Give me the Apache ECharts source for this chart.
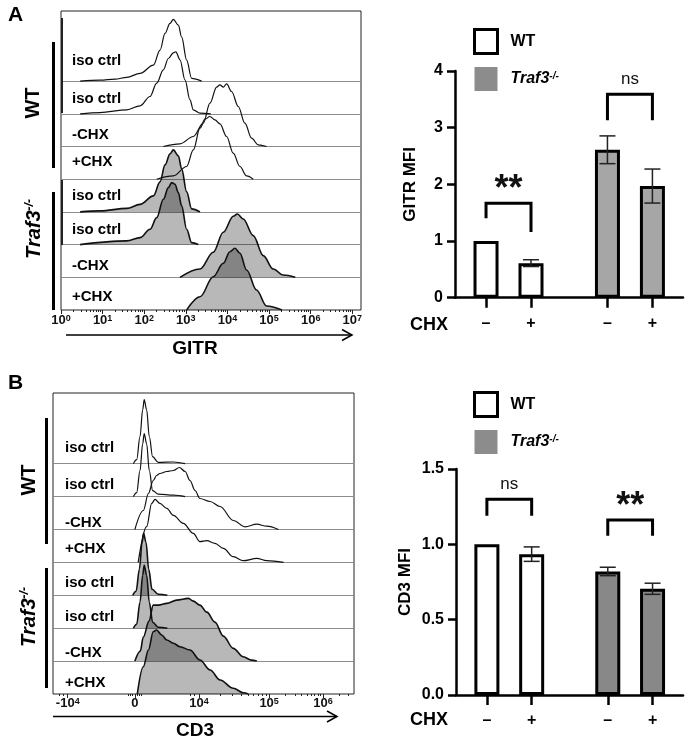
<!DOCTYPE html>
<html><head><meta charset="utf-8">
<script src="https://cdn.jsdelivr.net/npm/echarts@6/dist/echarts.min.js"></script>
<style>html,body{margin:0;padding:0;background:#fff}#c{width:688px;height:739px}</style>
</head><body><div id="c"></div>
<script>
const FONT = '"Liberation Sans", Arial, Helvetica, sans-serif';

// ---------- Panel A: GITR histograms (x = log10 intensity, y = relative count) ----------
const rowLabels = ['iso ctrl','iso ctrl','-CHX','+CHX','iso ctrl','iso ctrl','-CHX','+CHX'];
const rowFilled = [false,false,false,false,true,true,true,true];
const gitrWtIso1  = [[0.46,0],[0.94,1],[1.30,2],[1.58,3.7],[1.90,7.7],[2.22,16],[2.38,31],[2.50,47.7],[2.62,57.7],[2.70,61.7],[2.82,56],[2.90,44],[3.02,21],[3.14,2.7],[3.38,0]];
const gitrWtIso2  = [[0.46,0],[0.94,1.2],[1.58,4],[1.90,8],[2.14,17.3],[2.30,30.7],[2.46,44],[2.58,55.3],[2.70,61],[2.76,62],[2.86,54],[2.98,34],[3.10,14],[3.18,4],[3.34,0.7],[3.60,0]];
const gitrWtMinus = [[2.46,0],[2.86,2.7],[3.18,10],[3.42,23.3],[3.58,43.3],[3.74,59.3],[3.82,61.7],[3.90,59.3],[3.98,62.7],[4.10,55],[4.26,40],[4.42,23.3],[4.58,8.3],[4.74,1.7],[4.94,0]];
const gitrWtPlus  = [[2.30,0],[2.70,3.3],[3.02,12.7],[3.18,29.3],[3.34,51],[3.46,60],[3.58,62.7],[3.70,59.3],[3.82,55.3],[3.98,42.7],[4.14,26],[4.30,12.7],[4.46,3.3],[4.62,0]];
const gitrKoIso1  = [[0.46,0],[0.94,1],[1.58,3.5],[1.90,7.5],[2.22,16],[2.38,30],[2.50,47],[2.62,58],[2.70,62],[2.82,56],[2.90,43],[3.02,20],[3.14,3],[3.34,0]];
const gitrKoIso2  = [[0.46,0],[1.58,3.7],[1.90,7],[2.14,15.3],[2.30,27],[2.46,45.3],[2.58,57],[2.66,62],[2.74,60.3],[2.82,52],[2.90,38.7],[3.02,15.3],[3.14,2],[3.30,0]];
const gitrKoMinus = [[2.86,0],[3.34,8.3],[3.66,25],[3.90,45],[4.14,61],[4.24,63.3],[4.38,58.3],[4.62,41.7],[4.86,21.7],[5.10,8.3],[5.34,2.3],[5.63,0]];
const gitrKoPlus  = [[3.02,0],[3.34,13.3],[3.66,33.3],[3.90,46.7],[4.06,58.3],[4.18,61.7],[4.30,56.7],[4.46,40],[4.70,20],[4.94,4],[5.31,0]];
const gitrDecades = [0,1,2,3,4,5,6,7];

// ---------- Panel B: CD3 histograms (x = biexponential display channel) ----------
const cd3WtIso1  = [[267,0],[278,4],[289,27],[298,54],[303,64],[311,54],[320,27],[331,7],[350,1.3],[400,1.7],[439,0]];
const cd3WtIso2  = [[267,0],[278,4],[289,26],[298,53],[303,63],[311,53],[320,26],[331,6],[350,2.5],[400,1.5],[439,0]];
const cd3WtMinus = [[272,0],[300,19],[317,36],[333,49],[344,54],[355,56],[378,58],[400,59],[420,62],[439,58],[455,49],[472,39],[488,31],[522,28],[555,23],[599,9],[638,2.7],[677,5.3],[710,3.3],[749,0]];
const cd3WtPlus  = [[283,0],[311,35.7],[328,59],[339,63],[355,59],[378,54],[400,47],[433,39],[466,29],[488,20.7],[511,21.7],[538,19],[566,14],[599,5.7],[632,1.7],[677,4],[710,1.7],[766,0]];
const cd3KoIso1  = [[265,0],[276,4],[287,26],[296,53],[301,62],[309,53],[318,26],[329,6],[350,1],[380,0]];
const cd3KoIso2  = [[267,0],[278,4],[289,26],[298,53],[303,63],[311,53],[320,26],[331,6],[350,1],[380,0]];
const cd3KoMinus = [[272,0],[290,10],[300,24],[319,40],[333,56],[350,56],[378,57.7],[411,61],[450,62.7],[466,60],[488,56],[511,49],[538,39],[566,25],[599,12.7],[632,4.3],[660,1],[677,0]];
const cd3KoPlus  = [[280,0],[300,27.3],[317,44],[333,62.3],[344,64],[361,59],[378,54],[400,50.7],[422,47.3],[455,44],[488,34],[522,24],[555,14],[599,5.7],[632,1.3],[649,0]];
const cd3TickPos  = [49, 272, 485, 718, 897];
const cd3TickBase = ['-10','0','10','10','10'];
const cd3TickExp  = ['4','','4','5','6'];

// ---------- Bar charts ----------
const genotypes = ['WT','Traf3-/-'];
const chxSigns = ['–','+'];
const gitrWT = [1.0, 0.61],  gitrWTErr = [0, 0.06];
const gitrKO = [2.61, 1.97], gitrKOErr = [0.245, 0.30];
const cd3WT  = [1.0, 0.935], cd3WTErr  = [0, 0.048];
const cd3KO  = [0.82, 0.705], cd3KOErr = [0.028, 0.037];
const gitrSigText = ['**','ns'], gitrSigTop = [1.665, 3.59], gitrSigLegL = [1.40, 3.13], gitrSigLegR = [1.16, 3.13];
const cd3SigText  = ['ns','**'], cd3SigTop  = [1.30, 1.161], cd3SigLegL = [1.19, 1.057], cd3SigLegR = [1.19, 1.057];

// ---------- layout ----------
const GA = {left:61, top:11, width:300, height:299};
const GB = {left:53, top:393, width:301, height:301};
const rowHA = 32.7, rowHB = 32.9;
const liftA = [20,15,12,17,16,15,11,13];
const liftB = [16,12,7,14,12,11,8,11];
const GROUP_OFFSET = 2.7;
const slot = (g, i) => g * GROUP_OFFSET + i;
const slots = [slot(0,0), slot(0,1), slot(1,0), slot(1,1)];
const BX_MIN = -0.69, BX_MAX = 4.38;

const gitrCurves = [gitrWtIso1, gitrWtIso2, gitrWtMinus, gitrWtPlus, gitrKoIso1, gitrKoIso2, gitrKoMinus, gitrKoPlus];
const cd3Curves  = [cd3WtIso1, cd3WtIso2, cd3WtMinus, cd3WtPlus, cd3KoIso1, cd3KoIso2, cd3KoMinus, cd3KoPlus];

function histSeries(curves, rowH, xi, yi, prefix) {
  return curves.map((c, k) => {
    const base = (7 - k) * rowH;
    const s = {
      name: prefix + ' ' + k, type: 'line', xAxisIndex: xi, yAxisIndex: yi,
      data: c.map(p => [p[0], base + p[1]]),
      symbol: 'none', smooth: 0.35, smoothMonotone: 'x', silent: true,
      lineStyle: {color: '#111', width: rowFilled[k] ? 1.6 : 1.2},
      z: 3
    };
    if (rowFilled[k]) s.areaStyle = {color: 'rgba(0,0,0,0.4)', origin: base};
    if (base > 0) s.markLine = {silent: true, symbol: ['none','none'], label: {show: false},
      lineStyle: {color: '#8c8c8c', width: 1, type: 'solid'}, data: [{yAxis: base}], z: 2};
    return s;
  });
}

function nearestIdx(v) {
  let bi = 0; slots.forEach((s, i) => { if (Math.abs(s - v) < Math.abs(slots[bi] - v)) bi = i; });
  return bi;
}

function errSeries(wt, wtE, ko, koE, xi, yi) {
  const data = [];
  [[wt, wtE], [ko, koE]].forEach(([m, e], g) => m.forEach((v, i) => { if (e[i] > 0) data.push([slot(g, i), v, e[i]]); }));
  return {
    type: 'custom', xAxisIndex: xi, yAxisIndex: yi, silent: true, z: 5, data,
    renderItem(params, api) {
      const x = api.value(0), m = api.value(1), e = api.value(2);
      const t = api.coord([x, m + e]), b = api.coord([x, m - e]);
      const st = {stroke: '#222', lineWidth: 1.5};
      return {type: 'group', children: [
        {type: 'line', shape: {x1: t[0], y1: t[1], x2: b[0], y2: b[1]}, style: st},
        {type: 'line', shape: {x1: t[0] - 8, y1: t[1], x2: t[0] + 8, y2: t[1]}, style: st},
        {type: 'line', shape: {x1: b[0] - 8, y1: b[1], x2: b[0] + 8, y2: b[1]}, style: st}
      ]};
    }
  };
}

function sigSeries(texts, tops, legL, legR, xi, yi) {
  return {
    type: 'custom', xAxisIndex: xi, yAxisIndex: yi, silent: true, z: 6,
    data: texts.map((t, g) => [slot(g, 0), slot(g, 1), tops[g], legL[g], legR[g]]),
    renderItem(params, api) {
      const x1 = api.value(0), x2 = api.value(1), top = api.value(2);
      const a = api.coord([x1, api.value(3)]), b = api.coord([x1, top]);
      const c = api.coord([x2, top]), d = api.coord([x2, api.value(4)]);
      const txt = texts[params.dataIndex];
      const star = txt === '**';
      return {type: 'group', children: [
        {type: 'polyline', shape: {points: [a, b, c, d]}, style: {stroke: '#000', lineWidth: 3, fill: null}},
        {type: 'text', x: (b[0] + c[0]) / 2, y: b[1] + (star ? 5 : -15),
          style: {text: txt, align: 'center', verticalAlign: star ? 'bottom' : 'middle',
            font: star ? 'bold 36px ' + FONT : '17px ' + FONT, fill: '#111'}}
      ]};
    }
  };
}

function barSeries(wt, ko, xi, yi, koColor) {
  return [
    {name: 'WT', type: 'bar', xAxisIndex: xi, yAxisIndex: yi, barWidth: 25, barGap: '-100%', silent: true,
      data: wt.map((v, i) => [slot(0, i), v]),
      itemStyle: {color: '#fff', borderColor: '#000', borderWidth: 3}, z: 4},
    {name: 'Traf3-/-', type: 'bar', xAxisIndex: xi, yAxisIndex: yi, barWidth: 25, barGap: '-100%', silent: true,
      data: ko.map((v, i) => [slot(1, i), v]),
      itemStyle: {color: koColor, borderColor: '#000', borderWidth: 3}, z: 4}
  ];
}

const minorA = [];
gitrDecades.forEach(d => { for (let m = 2; m <= 9; m++) { const v = d + Math.log10(m); if (v < 7.21) minorA.push(v); } });
const minorB = [20, 34, 250, 258, 264, 280, 286, 294, 455, 470];
[[485, 718], [718, 897], [897, 1076]].forEach(([a, b]) => { for (let m = 2; m <= 9; m++) { const v = a + (b - a) * Math.log10(m); if (v < 1000) minorB.push(v); } });

const supRich = {
  b: {fontSize: 13, fontWeight: 'bold', fontFamily: FONT, color: '#111'},
  s: {fontSize: 9, fontWeight: 'bold', fontFamily: FONT, color: '#111', verticalAlign: 'top'}
};

function barXAxis(gi) {
  return {type: 'value', gridIndex: gi, min: BX_MIN, max: BX_MAX, position: 'bottom',
    axisLine: {show: true, onZero: false, lineStyle: {color: '#000', width: 2.5}},
    axisTick: {show: true, customValues: slots, length: 10, lineStyle: {color: '#000', width: 2.5}},
    axisLabel: {show: true, customValues: slots, margin: 18, color: '#000', fontSize: 16, fontWeight: 'bold', fontFamily: FONT,
      formatter: v => chxSigns[nearestIdx(v) % 2]},
    splitLine: {show: false}};
}
function barYAxis(gi, max, interval, name, gap, dec) {
  return {type: 'value', gridIndex: gi, min: 0, max, interval, position: 'left',
    name, nameLocation: 'middle', nameGap: gap, nameRotate: 90,
    nameTextStyle: {fontSize: 17, fontWeight: 'bold', fontFamily: FONT, color: '#000'},
    axisLine: {show: true, onZero: false, lineStyle: {color: '#000', width: 2.5}},
    axisTick: {show: true, length: 8, lineStyle: {color: '#000', width: 2.5}},
    axisLabel: {margin: 12, color: '#000', fontSize: 16, fontWeight: 'bold', fontFamily: FONT,
      formatter: v => v.toFixed(dec)},
    splitLine: {show: false}};
}

const legendCommon = {
  orient: 'vertical', left: 473, padding: 0, itemWidth: 23, itemHeight: 24, itemGap: 12, icon: 'rect',
  selectedMode: false,
  formatter: n => n === 'WT' ? '{sp|}{b|WT}' : '{sp|}{i|Traf3}{s|-/-}',
  textStyle: {rich: {
    sp: {width: 8},
    b: {fontSize: 16, fontWeight: 'bold', fontFamily: FONT, color: '#000'},
    i: {fontSize: 16, fontWeight: 'bold', fontStyle: 'italic', fontFamily: FONT, color: '#000'},
    s: {fontSize: 10, fontWeight: 'bold', fontStyle: 'italic', fontFamily: FONT, color: '#000', verticalAlign: 'top'}
  }},
  data: [
    {name: 'WT', itemStyle: {color: '#fff', borderColor: '#000', borderWidth: 3}},
    {name: 'Traf3-/-', itemStyle: {color: '#8c8c8c', borderWidth: 0}}
  ]
};

// ---------- graphics (text annotations) ----------
const graphics = [];
const txt = (x, y, text, font, extra) => graphics.push({type: 'text', x, y, z: 50, silent: true,
  style: Object.assign({text, font, fill: '#000', align: 'left', verticalAlign: 'middle'}, extra || {})});
txt(8, 15, 'A', 'bold 21px ' + FONT);
txt(8, 383, 'B', 'bold 21px ' + FONT);
rowLabels.forEach((l, k) => {
  txt(72, GA.top + GA.height - (7 - k) * rowHA - liftA[k], l, 'bold 15px ' + FONT);
  txt(65, GB.top + GB.height - (7 - k) * rowHB - liftB[k], l, 'bold 15px ' + FONT);
});
function vbar(x, y1, y2) { graphics.push({type: 'line', silent: true, z: 50, shape: {x1: x, y1, x2: x, y2}, style: {stroke: '#000', lineWidth: 3}}); }
vbar(53.5, 42, 168); vbar(53.5, 192, 310);
vbar(46.5, 418, 544); vbar(46.5, 568, 688);
graphics.push({type: 'line', silent: true, z: 50, shape: {x1: 62, y1: 18, x2: 62, y2: 113}, style: {stroke: '#222', lineWidth: 2}});
graphics.push({type: 'line', silent: true, z: 50, shape: {x1: 62, y1: 180, x2: 62, y2: 245}, style: {stroke: '#222', lineWidth: 2}});
function vtext(x, y, isKo) {
  graphics.push({type: 'text', x, y, rotation: Math.PI / 2, silent: true, z: 50, style: {
    text: isKo ? '{i|Traf3}{s|-/-}' : '{b|WT}', align: 'center', verticalAlign: 'middle',
    rich: {
      b: {fontSize: 20, fontWeight: 'bold', fontFamily: FONT, fill: '#000'},
      i: {fontSize: 20, fontWeight: 'bold', fontStyle: 'italic', fontFamily: FONT, fill: '#000'},
      s: {fontSize: 12, fontWeight: 'bold', fontStyle: 'italic', fontFamily: FONT, fill: '#000', verticalAlign: 'top'}
    }}});
}
vtext(33, 103, false); vtext(34, 229, true);
vtext(29, 480, false); vtext(29, 617, true);
function arrow(x1, x2, y) {
  graphics.push({type: 'line', silent: true, z: 50, shape: {x1, y1: y, x2, y2: y}, style: {stroke: '#000', lineWidth: 1.5}});
  graphics.push({type: 'polyline', silent: true, z: 50, shape: {points: [[x2 - 10, y - 5.5], [x2, y], [x2 - 10, y + 5.5]]}, style: {stroke: '#000', lineWidth: 1.5, fill: null}});
}
arrow(66, 352, 335); arrow(53, 337, 716.5);
txt(195, 349, 'GITR', 'bold 19px ' + FONT, {align: 'center'});
txt(195, 731, 'CD3', 'bold 19px ' + FONT, {align: 'center'});
txt(429, 325, 'CHX', 'bold 18px ' + FONT, {align: 'center'});
txt(429, 720, 'CHX', 'bold 18px ' + FONT, {align: 'center'});

const histLabel = {show: true, margin: 4, fontSize: 13, fontWeight: 'bold', fontFamily: FONT, color: '#111', rich: supRich};

const option = {
  animation: false,
  backgroundColor: '#fff',
  textStyle: {fontFamily: FONT},
  grid: [
    Object.assign({show: true, borderColor: '#222', borderWidth: 1, backgroundColor: 'transparent'}, GA),
    Object.assign({show: true, borderColor: '#222', borderWidth: 1, backgroundColor: 'transparent'}, GB),
    {left: 455, top: 71, width: 228, height: 226.7},
    {left: 456, top: 469, width: 227, height: 226}
  ],
  xAxis: [
    {type: 'value', gridIndex: 0, min: 0, max: 7.21, position: 'bottom',
      axisLine: {show: false}, splitLine: {show: false},
      axisTick: {show: true, customValues: gitrDecades, length: 4, lineStyle: {color: '#222', width: 1}},
      axisLabel: Object.assign({customValues: gitrDecades,
        formatter: v => '{b|10}{s|' + Math.round(v) + '}'}, histLabel)},
    {type: 'value', gridIndex: 0, min: 0, max: 7.21, position: 'bottom', offset: 0,
      axisLine: {show: false}, splitLine: {show: false}, axisLabel: {show: false},
      axisTick: {show: true, customValues: minorA, length: 2, lineStyle: {color: '#222', width: 1}}},
    {type: 'value', gridIndex: 1, min: 0, max: 1000, position: 'bottom',
      axisLine: {show: false}, splitLine: {show: false},
      axisTick: {show: true, customValues: cd3TickPos, length: 4, lineStyle: {color: '#222', width: 1}},
      axisLabel: Object.assign({customValues: cd3TickPos,
        formatter: v => { const i = cd3TickPos.indexOf(v); return '{b|' + cd3TickBase[i] + '}' + (cd3TickExp[i] ? '{s|' + cd3TickExp[i] + '}' : ''); }}, histLabel, {margin: 3})},
    {type: 'value', gridIndex: 1, min: 0, max: 1000, position: 'bottom', offset: 0,
      axisLine: {show: false}, splitLine: {show: false}, axisLabel: {show: false},
      axisTick: {show: true, customValues: minorB, length: 2, lineStyle: {color: '#222', width: 1}}},
    barXAxis(2),
    barXAxis(3)
  ],
  yAxis: [
    {type: 'value', gridIndex: 0, min: 0, max: GA.height, show: false},
    {type: 'value', gridIndex: 1, min: 0, max: GB.height, show: false},
    barYAxis(2, 4, 1, 'GITR MFI', 36, 0),
    barYAxis(3, 1.5, 0.5, 'CD3 MFI', 42, 1)
  ],
  legend: [
    Object.assign({top: 28}, legendCommon),
    Object.assign({top: 391}, legendCommon)
  ],
  series: [
    ...histSeries(gitrCurves, rowHA, 0, 0, 'GITR'),
    ...histSeries(cd3Curves, rowHB, 2, 1, 'CD3'),
    ...barSeries(gitrWT, gitrKO, 4, 2, '#a6a6a6'),
    ...barSeries(cd3WT, cd3KO, 5, 3, '#888888'),
    errSeries(gitrWT, gitrWTErr, gitrKO, gitrKOErr, 4, 2),
    errSeries(cd3WT, cd3WTErr, cd3KO, cd3KOErr, 5, 3),
    sigSeries(gitrSigText, gitrSigTop, gitrSigLegL, gitrSigLegR, 4, 2),
    sigSeries(cd3SigText, cd3SigTop, cd3SigLegL, cd3SigLegR, 5, 3)
  ],
  graphic: graphics
};
const chart = echarts.init(document.getElementById('c'), null, {renderer: 'canvas'});
chart.setOption(option);
</script>
</body></html>
